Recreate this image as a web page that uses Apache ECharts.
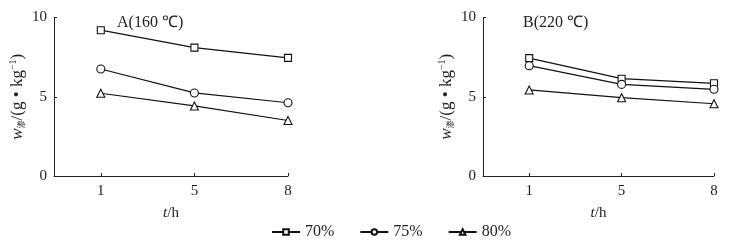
<!DOCTYPE html>
<html>
<head>
<meta charset="utf-8">
<script src="https://cdn.jsdelivr.net/npm/echarts@6/dist/echarts.min.js"></script>
<style>html,body{margin:0;padding:0;background:#fff}#c{width:746px;height:244px}</style>
</head>
<body>
<div id="c"></div>
<script>
var categories = ['1', '5', '8'];
var xPos = [1, 2, 3];
var seriesNames = ['70%', '75%', '80%'];
var symbols = ['rect', 'circle', 'triangle'];
var A70 = [9.2, 8.1, 7.45];
var A75 = [6.75, 5.24, 4.62];
var A80 = [5.22, 4.42, 3.5];
var B70 = [7.44, 6.14, 5.85];
var B75 = [6.96, 5.78, 5.47];
var B80 = [5.43, 4.94, 4.56];
var titles = ['A(160 ℃)', 'B(220 ℃)'];

var serif = '"Liberation Serif", "Times New Roman", serif';
var chart = echarts.init(document.getElementById('c'));

function pairs(vals) { return xPos.map(function (x, i) { return [x, vals[i]]; }); }

var yName = '{w|w}{s|渗}{n|/(g • kg}{sup|−1}{n|)}';
var yRich = {
  w: { fontFamily: serif, fontStyle: 'italic', fontSize: 17, color: '#222' },
  s: { fontFamily: '"Noto Sans CJK SC"', fontSize: 8, color: '#222', padding: [7, 0, 0, 0] },
  n: { fontFamily: serif, fontSize: 17, color: '#222' },
  sup: { fontFamily: serif, fontSize: 10, color: '#222', padding: [0, 0, 9, 0] }
};
var xName = '{t|t}{n|/h}';
var xRich = {
  t: { fontFamily: serif, fontStyle: 'italic', fontSize: 15, color: '#222' },
  n: { fontFamily: serif, fontSize: 15, color: '#222' }
};

function xAxis(idx) {
  return {
    type: 'value', gridIndex: idx, min: 0.5, max: 3,
    name: xName, nameLocation: 'middle', nameGap: 30,
    nameTextStyle: { rich: xRich },
    axisLine: { lineStyle: { color: '#222', width: 1 } },
    axisTick: { show: true, inside: true, length: 3, customValues: xPos, lineStyle: { color: '#222' } },
    axisLabel: { customValues: xPos, formatter: function (v) { return categories[xPos.indexOf(v)]; },
      fontFamily: serif, fontSize: 15, color: '#222', margin: 8 },
    splitLine: { show: false }
  };
}
function yAxis(idx) {
  return {
    type: 'value', gridIndex: idx, min: 0, max: 10, interval: 5,
    name: yName, nameLocation: 'middle', nameGap: 27, nameRotate: 90,
    nameTextStyle: { rich: yRich },
    axisLine: { show: true, lineStyle: { color: '#222', width: 1 } },
    axisTick: { show: true, inside: true, length: 3, lineStyle: { color: '#222' } },
    axisLabel: { fontFamily: serif, fontSize: 15, color: '#222', margin: 7 },
    splitLine: { show: false }
  };
}
function mk(name, data, sym, idx) {
  return {
    name: name, type: 'line', xAxisIndex: idx, yAxisIndex: idx,
    data: pairs(data), symbol: sym, symbolSize: sym === 'rect' ? 7 : 8,
    showAllSymbol: true, animation: false,
    lineStyle: { color: '#111', width: 1.2 },
    itemStyle: { color: '#fff', borderColor: '#111', borderWidth: 1.1 }
  };
}

chart.setOption({
  animation: false,
  backgroundColor: '#fff',
  grid: [
    { left: 54, top: 17.5, width: 234, height: 158.5 },
    { left: 483, top: 17.5, width: 231, height: 158.5 }
  ],
  xAxis: [xAxis(0), xAxis(1)],
  yAxis: [yAxis(0), yAxis(1)],
  title: [
    { text: titles[0], left: 112, top: 10, textStyle: { fontFamily: serif, fontSize: 16, fontWeight: 'normal', color: '#222' } },
    { text: titles[1], left: 518, top: 10, textStyle: { fontFamily: serif, fontSize: 16, fontWeight: 'normal', color: '#222' } }
  ],
  legend: {
    data: seriesNames, top: 219, left: 266, itemWidth: 28, itemHeight: 7, itemGap: 25,
    textStyle: { fontFamily: serif, fontSize: 16, color: '#222' }
  },
  series: [
    mk(seriesNames[0], A70, symbols[0], 0),
    mk(seriesNames[1], A75, symbols[1], 0),
    mk(seriesNames[2], A80, symbols[2], 0),
    mk(seriesNames[0], B70, symbols[0], 1),
    mk(seriesNames[1], B75, symbols[1], 1),
    mk(seriesNames[2], B80, symbols[2], 1)
  ]
});
</script>
</body>
</html>
